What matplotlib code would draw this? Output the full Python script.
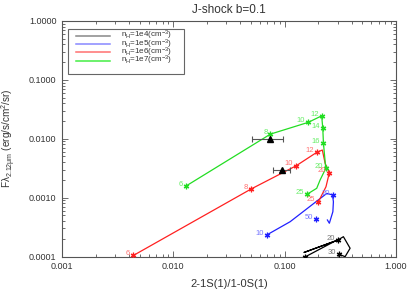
import matplotlib
matplotlib.use('Agg')
import matplotlib.pyplot as plt
from matplotlib.patches import Rectangle
from matplotlib.ticker import FuncFormatter, LogLocator, NullFormatter

plt.rcParams['font.family'] = ['Liberation Sans', 'DejaVu Sans']
plt.rcParams['mathtext.fontset'] = 'custom'
plt.rcParams['mathtext.rm'] = 'Liberation Sans'
plt.rcParams['mathtext.it'] = 'Liberation Sans:italic'
plt.rcParams['mathtext.default'] = 'regular'

# nH = 1e7  (path incl. bends, then labelled models)
g_path_x = [0.0129, 0.0746, 0.163, 0.215, 0.220, 0.223, 0.234, 0.208, 0.194, 0.160]
g_path_y = [0.00156, 0.0120, 0.0190, 0.0245, 0.0150, 0.00835, 0.00314, 0.00199, 0.00144, 0.00115]
g_lab = ['6', '8', '10', '12', '14', '16', '20', '25']
g_x = [0.0129, 0.0746, 0.163, 0.215, 0.220, 0.223, 0.234, 0.160]
g_y = [0.00156, 0.0120, 0.0190, 0.0245, 0.0150, 0.00835, 0.00314, 0.00115]

# nH = 1e6
r_path_x = [0.00437, 0.0499, 0.127, 0.194, 0.218, 0.231, 0.252, 0.235, 0.201]
r_path_y = [0.000104, 0.00140, 0.00348, 0.00587, 0.00643, 0.00382, 0.00265, 0.00153, 0.000851]
r_lab = ['6', '8', '10', '12', '20', '25']
r_x = [0.00437, 0.0499, 0.127, 0.194, 0.252, 0.201]
r_y = [0.000104, 0.00140, 0.00348, 0.00587, 0.00265, 0.000851]

# nH = 1e5
b_path_x = [0.0690, 0.112, 0.239, 0.269, 0.274, 0.271, 0.252, 0.242]
b_path_y = [0.000232, 0.00039, 0.00118, 0.00111, 0.000851, 0.000577, 0.000367, 0.000417]
b_lab = ['10', '20', '50']
b_x = [0.0690, 0.269, 0.191]
b_y = [0.000232, 0.00111, 0.000429]

# nH = 1e4
k_path_x = [0.152, 0.284, 0.149, 0.300, 0.337, 0.387, 0.349, 0.308]
k_path_y = [0.0000980, 0.000183, 0.000117, 0.000190, 0.000217, 0.000138, 0.0000993, 0.000109]
k_lab = ['15', '20', '30']
k_x = [0.152, 0.300, 0.308]
k_y = [0.0000980, 0.000190, 0.000109]

# observed ratios with x error bars
obs_x = [0.0745, 0.0953]
obs_y = [0.00989, 0.00294]
obs_xlo = [0.0513, 0.0791]
obs_xhi = [0.0973, 0.1117]

densities = ['1e4', '1e5', '1e6', '1e7']

series = [
    (k_path_x, k_path_y, k_x, k_y, k_lab, 'black', '#777777', '#888888'),
    (b_path_x, b_path_y, b_x, b_y, b_lab, '#2020ff', '#7777ff', '#8888ff'),
    (r_path_x, r_path_y, r_x, r_y, r_lab, '#ff2020', '#ff7070', '#ff7070'),
    (g_path_x, g_path_y, g_x, g_y, g_lab, '#22dd22', '#66ee66', '#44ee44'),
]

fig = plt.figure(figsize=(4.15, 2.97), dpi=100)
ax = fig.add_axes([62 / 415, 1 - 256.5 / 297, 334 / 415, 235.5 / 297])
ax.set_xscale('log')
ax.set_yscale('log')
ax.set_xlim(0.001, 1.0)
ax.set_ylim(0.0001, 1.0)

star = (6, 2, 0)
for px, py, mx, my, labs, col, lcol, hcol in series:
    ax.plot(px, py, color=col, lw=0.9, zorder=3)
    ax.plot(mx, my, ls='none', marker=star, ms=4, mew=0.9, color=col, zorder=4)
    for lab, x, y in zip(labs, mx, my):
        ax.annotate(lab, (x, y), xytext=(-2.2, 1.3), textcoords='offset points',
                    ha='right', va='center', fontsize=5.5, color=lcol, zorder=5)

xerr = [[x - lo for x, lo in zip(obs_x, obs_xlo)], [hi - x for x, hi in zip(obs_x, obs_xhi)]]
ax.errorbar(obs_x, obs_y, xerr=xerr, fmt='^', color='black', ms=5, ecolor='#555555',
            elinewidth=0.8, capsize=2, capthick=0.8, zorder=6)

# IDL style legend box, drawn by hand in axes coordinates
tr = ax.transAxes
ax.add_patch(Rectangle((6 / 334, (256.5 - 74) / 235.5), 116 / 334, 45 / 235.5,
                       transform=tr, facecolor='white', edgecolor='#666666', lw=0.8, zorder=7))
for i, (dens, s) in enumerate(zip(densities, series)):
    yy = (256.5 - (35.5 + 8.4 * i)) / 235.5
    ax.plot([14 / 334, 48 / 334], [yy, yy], transform=tr, color=s[7], lw=1.1, zorder=8)
    ax.text(59 / 334, yy, r'n$_H$=' + dens + r'(cm$^{-3}$)', transform=tr,
            ha='left', va='center', fontsize=5.8, color='#333333', zorder=8)

ax.xaxis.set_major_formatter(FuncFormatter(lambda v, p: '%.3f' % v))
ax.yaxis.set_major_formatter(FuncFormatter(lambda v, p: '%.4f' % v))
for a in (ax.xaxis, ax.yaxis):
    a.set_major_locator(LogLocator(base=10, numticks=10))
    a.set_minor_locator(LogLocator(base=10, subs=range(2, 10), numticks=20))
    a.set_minor_formatter(NullFormatter())
ax.tick_params(which='both', direction='in', top=True, right=True, colors='#555555',
               labelcolor='#333333', labelsize=6.5, width=0.6)
ax.tick_params(which='major', length=4, pad=4)
ax.tick_params(which='minor', length=2)
for s in ax.spines.values():
    s.set_color('#555555')
    s.set_linewidth(0.8)

fig.text(229 / 415, 1 - 10 / 297, 'J-shock b=0.1', ha='center', va='center',
         fontsize=8.5, color='#333333')
fig.text(229 / 415, 1 - 284 / 297, '2-1S(1)/1-0S(1)', ha='center', va='center',
         fontsize=8, color='#333333')
fig.text(8.5 / 415, 1 - 138 / 297, r'F$\lambda_{2.12\mu m}$ (erg/s/cm$^2$/sr)',
         ha='center', va='center', rotation=90, fontsize=7.2, color='#333333')

fig.savefig('out.png', dpi=100)
